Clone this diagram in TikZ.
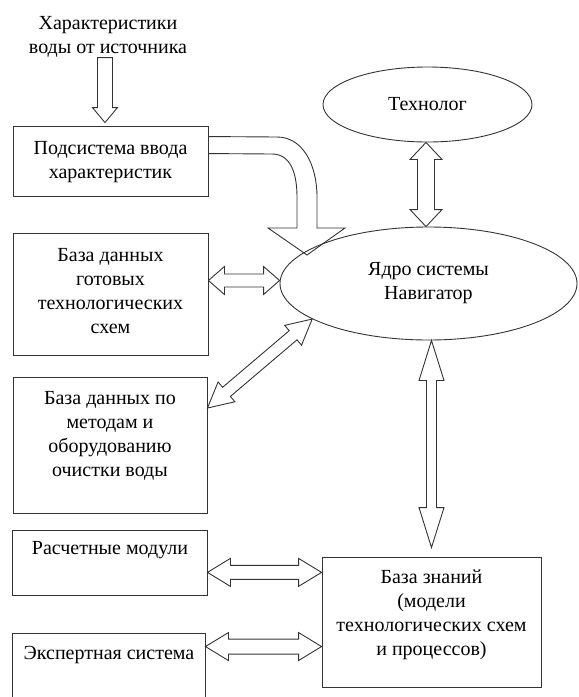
\documentclass[tikz,border=0pt]{standalone}
\usepackage{fontspec}
\setmainfont{Liberation Serif}
\usetikzlibrary{calc,shapes.geometric}
\tikzset{
  ln/.style={draw=black!80, line width=0.9pt, line join=miter},
  txt/.style={font=\fontsize{20}{24}\selectfont, align=center, inner sep=0pt},
  boxnode/.style={ln, rectangle, inner sep=0pt},
  ellnode/.style={ln, ellipse, inner sep=0pt, font=\fontsize{20}{24}\selectfont, align=center},
}
% double block arrow: #1 end A, #2 end B, #3 shaft half width, #4 head half width, #5 head length
\newcommand\dblarr[5]{%
  \path coordinate (pA) at ($(#1)!#5!(#2)$) coordinate (pB) at ($(#2)!#5!(#1)$);
  \draw[ln] (#1) -- ($(pA)!#4!90:(#2)$) -- ($(pA)!#3!90:(#2)$) -- ($(pB)!#3!-90:(#1)$)
    -- ($(pB)!#4!-90:(#1)$) -- (#2) -- ($(pB)!#4!90:(#1)$) -- ($(pB)!#3!90:(#1)$)
    -- ($(pA)!#3!-90:(#2)$) -- ($(pA)!#4!-90:(#2)$) -- cycle;
}
% single block arrow from #1 to tip #2
\newcommand\sglarr[5]{%
  \path coordinate (qB) at ($(#2)!#5!(#1)$);
  \draw[ln] ($(#1)!#3!90:(#2)$) -- ($(qB)!#3!-90:(#1)$) -- ($(qB)!#4!-90:(#1)$) -- (#2)
    -- ($(qB)!#4!90:(#1)$) -- ($(qB)!#3!90:(#1)$) -- ($(#1)!#3!-90:(#2)$) -- cycle;
}
\begin{document}
\begin{tikzpicture}[x=1pt,y=-1pt]
\useasboundingbox (0,0) rectangle (579,697);
\clip (0,0) rectangle (579,697);

% texts and boxes
\node[txt] (src) at (108,37) {Характеристики\\воды от источника};
\node[boxnode, minimum width=195pt, minimum height=70pt] (box1) at (110.5,161) {};
\node[txt] (t1) at (110.5,162) {Подсистема ввода\\характеристик};
\node[boxnode, minimum width=195pt, minimum height=122pt] (box2) at (110.5,294) {};
\node[txt] (t2) at (110.5,291) {База данных\\готовых\\технологических\\схем};
\node[boxnode, minimum width=194pt, minimum height=136pt] (box3) at (110,445) {};
\node[txt] (t3) at (110,436) {База данных по\\методам и\\оборудованию\\очистки воды};
\node[boxnode, minimum width=195pt, minimum height=65pt] (box4) at (109.5,562.5) {};
\node[txt] (t4) at (110,550) {Расчетные модули};
\node[boxnode, minimum width=193pt, minimum height=90pt] (box5) at (108.5,678) {};
\node[txt] (t5) at (109,655) {Экспертная система};
\node[boxnode, minimum width=219pt, minimum height=130pt] (box6) at (431.5,622) {};
\node[txt] (t6) at (431.5,615) {База знаний\\(модели\\технологических схем\\и процессов)};

\node[ellnode, minimum width=209pt, minimum height=75pt] (techno) at (427.5,104.5) {Технолог};
\node[ellnode, minimum width=297pt, minimum height=113pt] (core) at (428.5,283.5) {Ядро системы\\Навигатор};

% arrows
\coordinate (srcA) at ($(src.south)+(-3,0)$);
\coordinate (srcB) at ($(box1.north)+(-5.5,-3)$);
\sglarr{srcA}{srcB}{7.5pt}{12.5pt}{15pt}

\draw[ln] ($(box1.north east)+(0,11)$) -- (277,137) .. controls (303,137) and (317,165) .. (317,197)
  -- (317,228) -- (345,228) -- (307,255) -- (268,228) -- (297,228) -- (297,197)
  .. controls (297,172) and (290,154) .. (272,154) -- ($(box1.north east)+(0,28)$);

\coordinate (tcA) at ($(techno.south)+(-1.5,0)$);
\coordinate (tcB) at (core.north -| tcA);
\dblarr{tcA}{tcB}{8.5pt}{16pt}{17pt}

\coordinate (b2A) at ($(box2.east |- core.west)+(0,-3)$);
\coordinate (b2B) at ($(core.west)+(0,-3)$);
\dblarr{b2A}{b2B}{6.5pt}{14pt}{16pt}

\coordinate (b3A) at ($(box3.north east)!0.23!(box3.south east)$);
\coordinate (b3B) at (core.197);
\dblarr{b3A}{b3B}{6pt}{13pt}{25pt}

\coordinate (cbA) at (core.south -| box6.north);
\coordinate (cbB) at ($(box6.north)+(0,-9)$);
\dblarr{cbA}{cbB}{5pt}{12.5pt}{40pt}

\coordinate (b4A) at ($(box4.north east)!0.65!(box4.south east)$);
\coordinate (b4B) at (box6.west |- b4A);
\dblarr{b4A}{b4B}{7pt}{14pt}{23pt}

\coordinate (b5A) at ($(box5.north east)+(0,14)$);
\coordinate (b5B) at (box6.west |- b5A);
\dblarr{b5A}{b5B}{7.5pt}{14pt}{23pt}
\end{tikzpicture}
\end{document}
